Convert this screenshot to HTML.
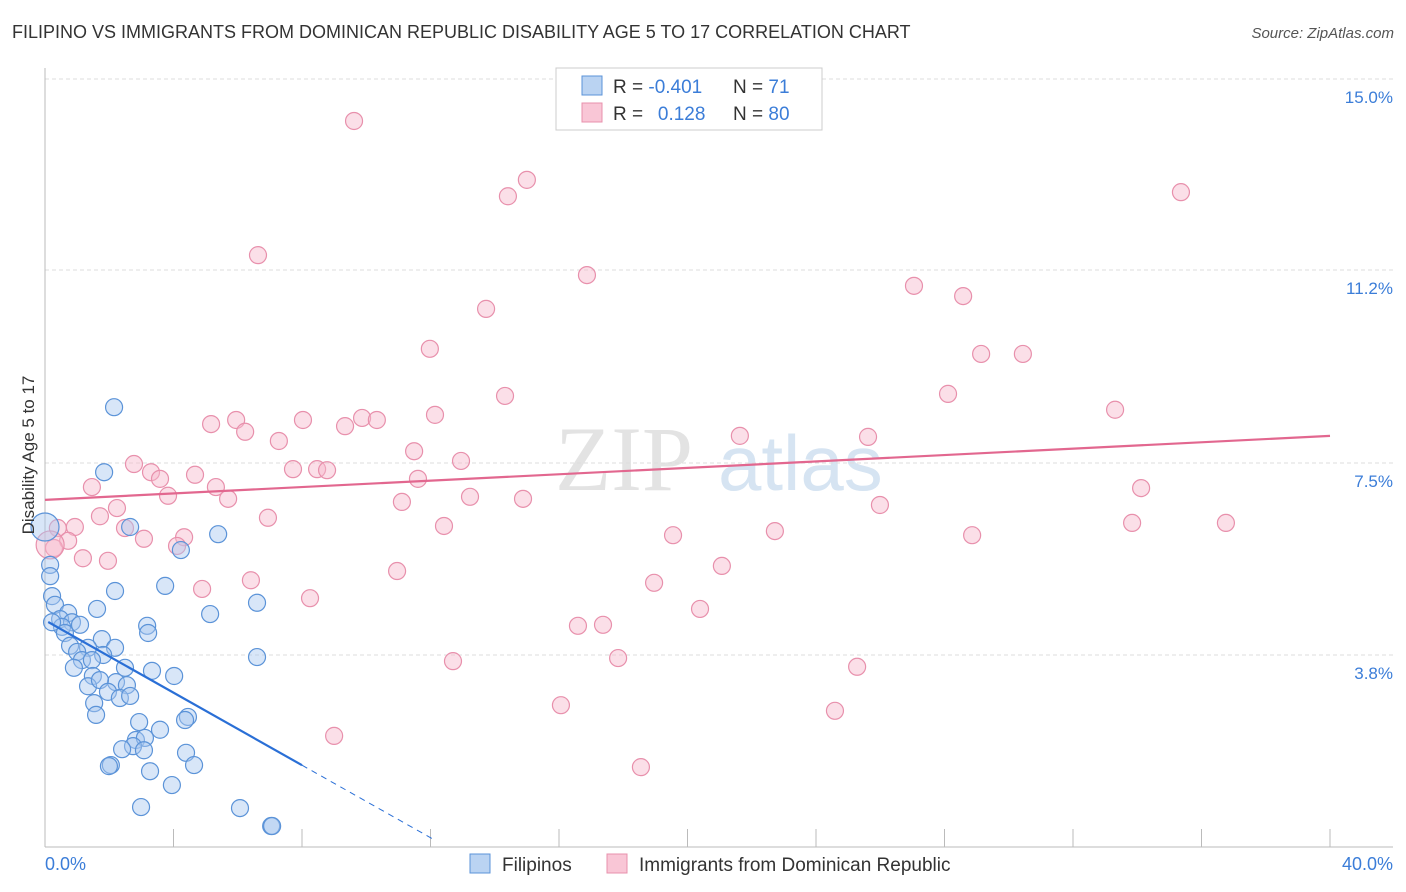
<!DOCTYPE html>
<html><head><meta charset="utf-8">
<style>
body{margin:0;background:#fff;font-family:"Liberation Sans",sans-serif;}
#wrap{position:relative;width:1406px;height:892px;overflow:hidden}
.t{position:absolute;white-space:nowrap}
</style></head><body>
<div id="wrap">
<div class="t" style="left:12px;top:22px;font-size:18px;color:#333">FILIPINO VS IMMIGRANTS FROM DOMINICAN REPUBLIC DISABILITY AGE 5 TO 17 CORRELATION CHART</div>
<div class="t" style="right:12px;top:25px;font-size:15px;color:#555;font-style:italic">Source: ZipAtlas.com</div>
<svg id="svg" width="1406" height="892" style="position:absolute;left:0;top:0"></svg>
</div>
<script>
const blueX=[2.15,1.84,2.65,5.39,4.23,0.0,0.16,0.16,2.18,3.74,0.22,0.31,1.62,6.60,5.14,0.72,0.47,0.84,0.53,1.09,0.22,3.18,3.21,0.62,1.77,0.78,1.34,2.18,1.00,1.81,1.15,1.46,6.60,2.49,3.33,0.90,4.02,1.49,2.21,2.55,1.34,1.71,1.96,2.33,2.65,1.53,1.59,4.45,4.36,2.93,3.58,2.83,3.11,2.74,2.40,3.08,4.39,2.05,1.99,4.64,3.27,2.99,3.95,6.07,7.04,7.07];
const blueY=[8.59,7.32,6.25,6.11,5.80,6.25,5.51,5.29,5.00,5.10,4.90,4.73,4.65,4.77,4.55,4.57,4.45,4.39,4.30,4.34,4.39,4.32,4.18,4.18,4.06,3.93,3.89,3.89,3.81,3.75,3.65,3.65,3.71,3.50,3.44,3.50,3.34,3.34,3.22,3.16,3.14,3.26,3.03,2.91,2.95,2.81,2.58,2.54,2.48,2.44,2.29,2.09,2.13,1.97,1.91,1.89,1.84,1.60,1.58,1.60,1.48,0.78,1.21,0.76,0.41,0.41];
const pinkX=[9.62,15.00,14.41,35.36,6.63,16.87,27.05,28.58,13.73,11.98,29.14,30.44,14.32,28.11,12.14,33.31,9.87,10.33,8.03,5.17,5.95,6.23,9.34,7.28,21.63,25.62,11.49,2.77,12.95,3.30,4.67,7.72,8.47,8.78,3.58,11.61,1.46,5.32,34.12,3.83,5.70,13.23,14.88,11.11,25.99,2.24,1.71,6.94,33.84,36.76,0.40,0.93,2.49,12.42,22.72,19.55,28.86,3.08,4.33,0.72,4.11,0.28,1.18,1.96,10.96,21.07,6.41,18.96,4.89,8.25,20.39,16.59,17.37,12.70,17.84,25.28,16.06,24.59,9.00,18.55,0.16];
const pinkY=[14.18,13.03,12.71,12.79,11.56,11.17,10.96,10.76,10.51,9.73,9.63,9.63,8.81,8.85,8.44,8.54,8.38,8.34,8.34,8.26,8.34,8.11,8.22,7.93,8.03,8.01,7.73,7.48,7.54,7.32,7.27,7.38,7.38,7.36,7.19,7.19,7.03,7.03,7.01,6.86,6.80,6.84,6.80,6.74,6.68,6.62,6.46,6.43,6.33,6.33,6.23,6.25,6.23,6.27,6.17,6.09,6.09,6.02,6.05,5.98,5.88,5.84,5.64,5.59,5.39,5.49,5.21,5.16,5.04,4.86,4.65,4.32,4.34,3.63,3.69,3.52,2.77,2.66,2.17,1.56,5.9];
const yTicks=[3.8,7.5,11.2,15.0];
const yTickLabels=["3.8%","7.5%","11.2%","15.0%"];
const xTicks=[0,4,8,12,16,20,24,28,32,36,40];
const blueTrend=[4.43,-0.354];
const pinkTrend=[6.78,0.03125];

const NS="http://www.w3.org/2000/svg",svg=document.getElementById('svg');
const X=v=>45+v*32.125, Y=v=>847-v*51.2;
function mk(t,a,p){const e=document.createElementNS(NS,t);for(const k in a)e.setAttribute(k,a[k]);(p||svg).appendChild(e);return e;}
// watermark
let w=mk('text',{x:555,y:490,'font-size':92,fill:'#e3e3e3','font-family':'Liberation Serif'});w.textContent='ZIP';

let w2=mk('text',{x:718,y:490,'font-size':78,fill:'#d6e4f2','font-family':'Liberation Sans'});w2.textContent='atlas';

yTicks.forEach((v,i)=>{
 const yy=[655,463,270,79][i];
 const g=mk('line',{x1:45,x2:1393,y1:Y(v*0+ (847-yy)/51.2),y2:Y((847-yy)/51.2),stroke:'#ddd','stroke-dasharray':'4,3'});
 
 const t=mk('text',{x:1393,y:yy+24,'text-anchor':'end','font-size':17,fill:'#3b7dd8'});t.textContent=yTickLabels[i];
 
});
let ax=mk('line',{x1:45,x2:45,y1:68,y2:847,stroke:'#bbb'});
let bx=mk('line',{x1:45,x2:1393,y1:847,y2:847,stroke:'#bbb'});
xTicks.forEach(v=>{const l=mk('line',{x1:X(v),x2:X(v),y1:829,y2:847,stroke:'#bbb'});});
function dots(xs,ys,fill,stroke,name){xs.forEach((x,i)=>{const big=(x<0.2&&(ys[i]>5.85&&ys[i]<6.3));const c=mk('circle',{cx:X(x),cy:Y(ys[i]),r:big?14:8.5,fill:fill,stroke:stroke,'stroke-width':1.2,'fill-opacity':0.45});
 });}
dots(pinkX,pinkY,'#f7b8cc','#e890ac','pink-point');
dots(blueX,blueY,'#a9c8ef','#5b93d8','blue-point');
let bl=mk('line',{x1:X(0.1),y1:Y(blueTrend[0]+blueTrend[1]*0.1),x2:X(8),y2:Y(blueTrend[0]+blueTrend[1]*8),stroke:'#2a6fd6','stroke-width':2.2});

let bd=mk('line',{x1:X(8),y1:Y(blueTrend[0]+blueTrend[1]*8),x2:X(12.05),y2:Y(blueTrend[0]+blueTrend[1]*12.05),stroke:'#2a6fd6','stroke-width':1,'stroke-dasharray':'6,5'});

let pl=mk('line',{x1:X(0),y1:Y(pinkTrend[0]),x2:X(40),y2:Y(pinkTrend[0]+pinkTrend[1]*40),stroke:'#e2678f','stroke-width':2.2});

let yt=mk('text',{x:34,y:455,'font-size':17,fill:'#333','text-anchor':'middle',transform:'rotate(-90 34 455)'});yt.textContent='Disability Age 5 to 17';

let x0=mk('text',{x:45,y:870,'font-size':18,fill:'#3b7dd8'});x0.textContent='0.0%';
let x1=mk('text',{x:1393,y:870,'font-size':18,fill:'#3b7dd8','text-anchor':'end'});x1.textContent='40.0%';
// top legend
let lg=mk('rect',{x:556,y:68,width:266,height:62,fill:'#fff',stroke:'#ccc'});
[[76,'#a9c8ef','#5b93d8','-0.401','71'],[103,'#f7b8cc','#e890ac','0.128','80']].forEach(r=>{
 const s=mk('rect',{x:582,y:r[0],width:20,height:19,fill:r[1],stroke:r[2],'fill-opacity':0.8});
 const t=mk('text',{x:613,y:r[0]+17,'font-size':19,fill:'#333'});t.innerHTML='R = <tspan fill="#3b7dd8">'+(r[3][0]=='-'?'':'\u2002')+r[3]+'</tspan>';
 
 const n=mk('text',{x:733,y:r[0]+17,'font-size':19,fill:'#333'});n.innerHTML='N = <tspan fill="#3b7dd8">'+r[4]+'</tspan>';
 
});
// bottom legend
[[470,'#a9c8ef','#5b93d8','Filipinos'],[607,'#f7b8cc','#e890ac','Immigrants from Dominican Republic']].forEach(r=>{
 const s=mk('rect',{x:r[0],y:854,width:20,height:19,fill:r[1],stroke:r[2],'fill-opacity':0.8});
 const t=mk('text',{x:r[0]+32,y:871,'font-size':19,fill:'#333'});t.textContent=r[3];
});
</script>
</body></html>
